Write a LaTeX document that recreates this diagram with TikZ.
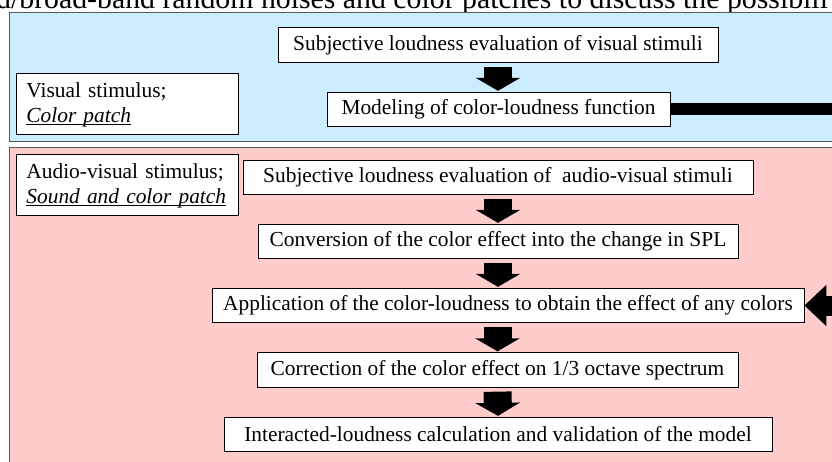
\documentclass[tikz,border=0pt]{standalone}
\usepackage{fontspec}
\setmainfont{Liberation Serif}
\usetikzlibrary{arrows.meta}

\definecolor{visblue}{RGB}{204,236,255}
\definecolor{avpink}{RGB}{255,204,204}

\tikzset{
  stepbox/.style={draw=black, fill=white, line width=0.8pt, inner sep=0pt,
    minimum height=34.5pt, font=\fontsize{21.4}{25}\selectfont},
  labelbox/.style={draw=black, fill=white, line width=0.8pt, inner xsep=10pt,
    inner ysep=0pt, text width=202pt, align=left, minimum height=61pt,
    anchor=north west, font=\fontsize{21.4}{25}\selectfont},
  panel/.style={draw=black!65, line width=0.8pt},
  blockdown/.style={line width=28pt, -{Triangle[width=44pt,length=13pt]},
    shorten <=4pt, shorten >=1pt},
  blockleft/.style={line width=20pt, -{Triangle[width=40pt,length=22pt]}},
}

\begin{document}
\begin{tikzpicture}[x=1pt,y=-1pt]
\useasboundingbox (0,0) rectangle (832,462);
\clip (0,0) rectangle (832,462);

% text line of the page above the figure
\node[anchor=base west, inner sep=0pt, font=\fontsize{29.8}{32}\selectfont] (pagetext) at (-4,8.5)
  {d/broad-band random noises and color patches to discuss the possibili};

% panels
\draw[panel, fill=visblue] (9,12) rectangle (860,141);
\draw[panel, fill=avpink] (9,147) rectangle (860,490);
\coordinate (redge) at (845,0);

% visual stimulus part
\node[labelbox] (vislabel) at (16,73)
  {Visual stimulus;\\ \underline{\smash{\textit{Color patch}}}};
\node[stepbox, minimum width=440pt] (subjvis) at (498,45)
  {Subjective loudness evaluation of visual stimuli};
\node[stepbox, minimum width=343pt] (model) at (498.5,109.5)
  {Modeling of color-loudness function};

% audio-visual stimulus part
\node[labelbox] (avlabel) at (16,154)
  {Audio-visual stimulus;\\ \underline{\smash{\textit{Sound and color patch}}}};
\node[stepbox, minimum width=510pt] (subjav) at (498,177.5)
  {Subjective loudness evaluation of \ audio-visual stimuli};
\node[stepbox, minimum width=480pt] (convert) at (498,241.5)
  {Conversion of the color effect into the change in SPL};
\node[stepbox, minimum width=592pt] (apply) at (508,305.5)
  {Application of the color-loudness to obtain the effect of any colors};
\node[stepbox, minimum width=481pt] (correct) at (497.5,370)
  {Correction of the color effect on 1/3 octave spectrum};
\node[stepbox, minimum width=548pt] (interact) at (498,434.5)
  {Interacted-loudness calculation and validation of the model};

% arrows
\draw[blockdown] (subjvis.south) -- (model.north -| subjvis.south);
\draw[blockdown] (subjav.south) -- (convert.north);
\draw[blockdown] (convert.south) -- (apply.north -| convert.south);
\draw[blockdown] (apply.south -| correct.north) -- (correct.north);
\draw[blockdown] (correct.south) -- (interact.north);
\draw[line width=12pt] (model.east) -- (model.east -| redge);
\draw[blockleft] (apply.east -| redge) -- (apply.east);
\end{tikzpicture}
\end{document}
